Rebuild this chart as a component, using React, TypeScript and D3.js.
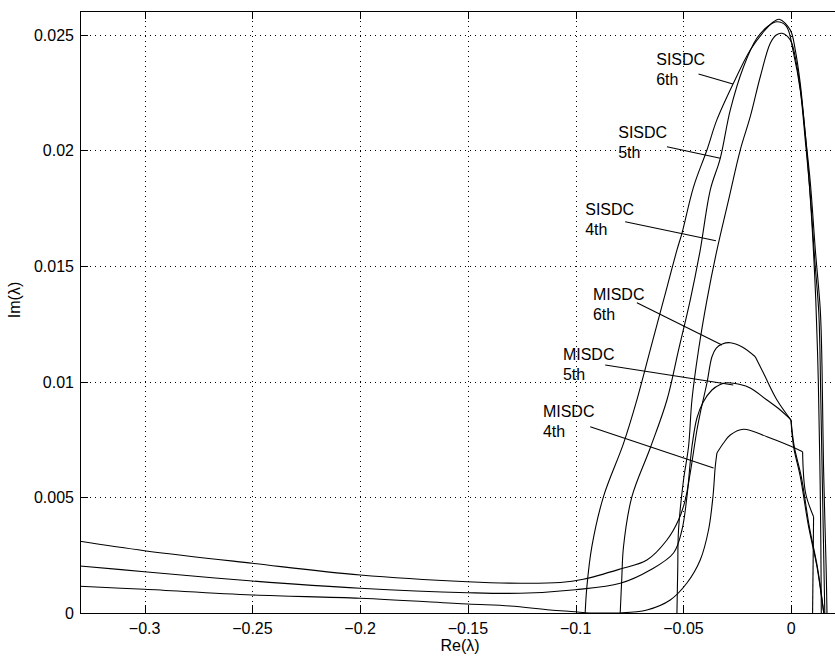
import React from "react";
import * as d3 from "d3";

type P = [number, number];

const xTicks = [-0.3, -0.25, -0.2, -0.15, -0.1, -0.05, 0];
const yTicks = [0, 0.005, 0.01, 0.015, 0.02, 0.025];

const sisdc6: P[] = [
  [-0.0956, 0], [-0.0948, 0.00114], [-0.0925, 0.00287], [-0.0871, 0.00503], [-0.0778, 0.00733],
  [-0.0716, 0.00921], [-0.0654, 0.01137], [-0.0592, 0.01353], [-0.053, 0.01569], [-0.0507, 0.01641],
  [-0.0453, 0.01842], [-0.0391, 0.02001], [-0.0345, 0.02131], [-0.027, 0.02286], [-0.019, 0.02433],
  [-0.0128, 0.02512], [-0.0082, 0.02555], [-0.0055, 0.02566], [-0.0004, 0.02519], [0.0019, 0.02433],
  [0.0042, 0.02289], [0.0065, 0.02073], [0.0089, 0.01857], [0.0112, 0.01569], [0.0135, 0.01309],
  [0.0143, 0.01064], [0.015, 0.00632], [0.0162, 0.002], [0.0166, 0],
];

const sisdc5: P[] = [
  [-0.07934, 0], [-0.07864, 0.001426], [-0.07781, 0.002865], [-0.07391, 0.005026], [-0.06541, 0.007131],
  [-0.05766, 0.009205], [-0.05228, 0.011366], [-0.04685, 0.013526], [-0.04221, 0.015687], [-0.03756, 0.01828],
  [-0.03292, 0.01965], [-0.02828, 0.021737], [-0.0221, 0.023609], [-0.01588, 0.024849], [-0.01064, 0.025367],
  [-0.0066, 0.025553], [-0.00228, 0.025367], [0.00111, 0.024188], [0.00422, 0.022584], [0.00654, 0.020423],
  [0.00886, 0.018046], [0.01095, 0.015238], [0.01281, 0.012965], [0.01374, 0.009205], [0.01443, 0.005748],
  [0.01513, 0.00229], [0.01559, 0],
];

const sisdc4: P[] = [
  [-0.05302, 0], [-0.05265, 0.001858], [-0.05228, 0.003587], [-0.04996, 0.005748], [-0.04764, 0.007187],
  [-0.04606, 0.009205], [-0.043, 0.011366], [-0.0391, 0.013526], [-0.03446, 0.015687], [-0.02907, 0.017848],
  [-0.02364, 0.020009], [-0.019, 0.021448], [-0.01435, 0.023176], [-0.00971, 0.02462], [-0.00692, 0.024978],
  [-0.00427, 0.025052], [-0.00042, 0.024762], [0.00269, 0.023609], [0.00576, 0.021448], [0.00793, 0.019144],
  [0.00979, 0.016551], [0.01141, 0.013526], [0.01257, 0.010069], [0.01327, 0.006612], [0.01374, 0.003155],
  [0.01397, 0],
];

const misdc6: P[] = [
  [-0.33, 0.003099], [-0.3001, 0.002692], [-0.25, 0.002148], [-0.2, 0.001642], [-0.1502, 0.001353],
  [-0.12576, 0.001285], [-0.10719, 0.001318], [-0.09651, 0.001456], [-0.07934, 0.001901], [-0.06695, 0.00229],
  [-0.05766, 0.003155], [-0.05228, 0.004019], [-0.04917, 0.004883], [-0.04685, 0.00605], [-0.04374, 0.007908],
  [-0.04221, 0.008643], [-0.0391, 0.00994], [-0.03677, 0.011076], [-0.03477, 0.011452], [-0.03199, 0.011625],
  [-0.02828, 0.011681], [-0.02271, 0.011495], [-0.01667, 0.011076], [-0.01282, 0.010359], [-0.0066, 0.009205],
  [-0.0001, 0.008341], [0.00111, 0.007187], [0.00422, 0.00589], [0.00808, 0.003729], [0.01197, 0.002001],
  [0.01503, 0.000056], [0.01513, 0],
];

const misdc5: P[] = [
  [-0.33, 0.002031], [-0.3001, 0.001785], [-0.25, 0.001383], [-0.2, 0.001067], [-0.1502, 0.000877],
  [-0.12576, 0.000853], [-0.10022, 0.001007], [-0.07934, 0.001283], [-0.06541, 0.001858], [-0.0546, 0.002593],
  [-0.0507, 0.003587], [-0.04838, 0.005026], [-0.04606, 0.007187], [-0.04374, 0.008427], [-0.04081, 0.009118],
  [-0.03677, 0.009637], [-0.03292, 0.009875], [-0.02981, 0.009952], [-0.02364, 0.009875], [-0.019, 0.009723],
  [-0.01124, 0.009205], [-0.00506, 0.008773], [-0.0001, 0.008341], [0.00143, 0.007187], [0.00468, 0.00589],
  [0.0084, 0.003729], [0.01211, 0.002001], [0.01513, 0],
];

const misdc4: P[] = [
  [-0.33, 0.001154], [-0.3001, 0.001024], [-0.25, 0.000778], [-0.2, 0.000635], [-0.1502, 0.000389],
  [-0.1305, 0.000303], [-0.11183, 0.00013], [-0.10022, 0.000056], [-0.09558, 0.000013], [-0.08862, 0],
  [-0.0798, 0], [-0.06695, 0.00013], [-0.05613, 0.000562], [-0.04838, 0.001296], [-0.04221, 0.00229],
  [-0.03836, 0.003587], [-0.03631, 0.005026], [-0.03524, 0.006322], [-0.03446, 0.006914], [-0.03139, 0.007347],
  [-0.02828, 0.007692], [-0.0221, 0.007939], [-0.01124, 0.007619], [-0.00042, 0.007217], [0.00529, 0.006971],
  [0.00668, 0.005186], [0.01039, 0.004162], [0.00993, 0],
];

const seriesNames = ["SISDC 6th", "SISDC 5th", "SISDC 4th", "MISDC 6th", "MISDC 5th", "MISDC 4th"];
const seriesData = [sisdc6, sisdc5, sisdc4, misdc6, misdc5, misdc4];
// indices where the boundary has a sharp corner
const seriesCorners: number[][] = [[], [], [], [22, 25], [22], [18, 24, 26]];

// annotations (data units)
const labelLines = [
  ["SISDC", "6th"], ["SISDC", "5th"], ["SISDC", "4th"],
  ["MISDC", "6th"], ["MISDC", "5th"], ["MISDC", "4th"],
];
const labelAnchors: P[] = [
  [-0.06263, 0.023682], [-0.08027, 0.020527], [-0.09558, 0.0172],
  [-0.09201, 0.013526], [-0.10593, 0.010933], [-0.11522, 0.00847],
];
const pointerStarts: P[] = [
  [-0.04299, 0.023293], [-0.05766, 0.020151], [-0.07702, 0.01691],
  [-0.07159, 0.01341], [-0.0863, 0.010717], [-0.09326, 0.008051],
];
const pointerEnds: P[] = [
  [-0.02703, 0.022861], [-0.03292, 0.01965], [-0.03491, 0.016089],
  [-0.03213, 0.011582], [-0.02688, 0.009853], [-0.03603, 0.006266],
];

const W = 835;
const H = 657;
const L = 80;
const R = 834.3;
const T = 11.4;
const B = 613;
const FONT = "'Liberation Sans', Arial, Helvetica, sans-serif";

const fmt = (v: number) => {
  if (v === 0) return "0";
  const s = String(Math.abs(v));
  return (v < 0 ? "\u2212" : "") + s;
};

function splitAt(d: P[], corners: number[]): P[][] {
  const out: P[][] = [];
  let start = 0;
  corners.forEach((c) => {
    out.push(d.slice(start, c + 1));
    start = c;
  });
  out.push(d.slice(start));
  return out;
}

export default function App() {
  const x = d3.scaleLinear().domain([-0.33, 0.02]).range([L, R]);
  const y = d3.scaleLinear().domain([0, 0.026]).range([B, T]);

  const smooth = d3.line<P>().x((d) => x(d[0])).y((d) => y(d[1])).curve(d3.curveCatmullRom.alpha(0.5));

  return (
    <svg
      width={W}
      height={H}
      style={{ position: "fixed", left: 0, top: 0, background: "#fff" }}
      fontFamily={FONT}
    >
      <rect x={0} y={0} width={W} height={H} fill="#fff" />
      <defs>
        <clipPath id="plot">
          <rect x={L} y={T} width={R - L + 2} height={B - T + 0.5} />
        </clipPath>
      </defs>
      {/* grid */}
      <g stroke="#000" strokeWidth={1} strokeDasharray="1,4" shapeRendering="crispEdges">
        {xTicks.map((t) => (
          <line key={"gx" + t} x1={Math.round(x(t)) + 0.5} x2={Math.round(x(t)) + 0.5} y1={T} y2={B} />
        ))}
        {yTicks.map((t) => (
          <line key={"gy" + t} x1={L} x2={W} y1={Math.round(y(t)) + 0.5} y2={Math.round(y(t)) + 0.5} />
        ))}
      </g>
      {/* curves */}
      <g clipPath="url(#plot)" fill="none" stroke="#000" strokeWidth={1.1} strokeLinejoin="miter">
        {seriesData.map((d, i) =>
          splitAt(d, seriesCorners[i]).map((seg, j) => (
            <path key={seriesNames[i] + j} d={smooth(seg) || ""} />
          ))
        )}
      </g>
      {/* pointers */}
      <g stroke="#000" strokeWidth={1.1}>
        {pointerStarts.map((p, i) => (
          <line key={"p" + i} x1={x(p[0])} y1={y(p[1])} x2={x(pointerEnds[i][0])} y2={y(pointerEnds[i][1])} />
        ))}
      </g>
      {/* labels */}
      <g fontSize={16} fill="#000">
        {labelAnchors.map((a, i) => (
          <text key={"l" + i} x={x(a[0])} y={y(a[1])}>
            <tspan x={x(a[0])}>{labelLines[i][0]}</tspan>
            <tspan x={x(a[0])} dy={20}>{labelLines[i][1]}</tspan>
          </text>
        ))}
      </g>
      {/* frame */}
      <g stroke="#000" strokeWidth={1} shapeRendering="crispEdges">
        <line x1={L} x2={W} y1={Math.round(T) + 0.5} y2={Math.round(T) + 0.5} />
        <line x1={L} x2={W} y1={B + 0.5} y2={B + 0.5} />
        <line x1={L + 0.5} x2={L + 0.5} y1={T} y2={B} />
        {xTicks.map((t) => (
          <g key={"tx" + t}>
            <line x1={Math.round(x(t)) + 0.5} x2={Math.round(x(t)) + 0.5} y1={B} y2={B - 8} />
            <line x1={Math.round(x(t)) + 0.5} x2={Math.round(x(t)) + 0.5} y1={T} y2={T + 8} />
          </g>
        ))}
        {yTicks.map((t) => (
          <line key={"ty" + t} x1={L} x2={L + 8} y1={Math.round(y(t)) + 0.5} y2={Math.round(y(t)) + 0.5} />
        ))}
      </g>
      {/* tick labels */}
      <g fontSize={16} fill="#000">
        {xTicks.map((t) => (
          <text key={"xl" + t} x={x(t)} y={634} textAnchor="middle">
            {fmt(t)}
          </text>
        ))}
        {yTicks.map((t) => (
          <text key={"yl" + t} x={74} y={y(t) + 6} textAnchor="end">
            {fmt(t)}
          </text>
        ))}
      </g>
      {/* axis titles */}
      <text x={460} y={651} fontSize={16} textAnchor="middle">Re(λ)</text>
      <text transform={`translate(20,${300}) rotate(-90)`} fontSize={16} textAnchor="middle">Im(λ)</text>
    </svg>
  );
}
